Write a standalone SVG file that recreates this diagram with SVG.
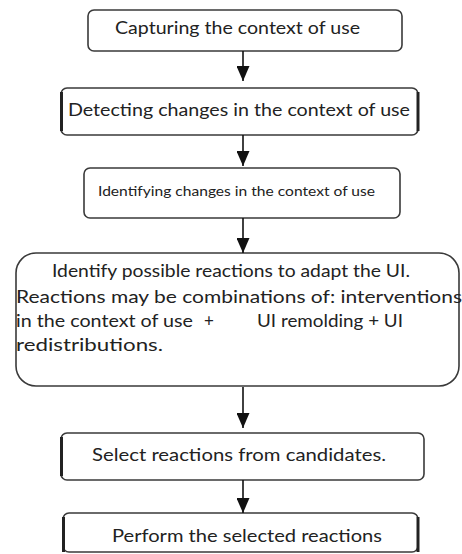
<svg xmlns="http://www.w3.org/2000/svg" width="462" height="554" viewBox="0 0 462 554">
<defs>
<style>
.box{fill:#fff;stroke:#3a3a3a;stroke-width:1.6}
.thick{stroke:#222;stroke-width:3;fill:none}
.t{font-family:Lato,"Open Sans","Liberation Sans",sans-serif;fill:#222}
.edge{stroke:#111;stroke-width:1.6;fill:none}
</style>
<marker id="ah" viewBox="0 0 15 13" refX="15" refY="6.5" markerWidth="15" markerHeight="13" markerUnits="userSpaceOnUse" orient="auto">
<path d="M0,0 L15,6.5 L0,13 Z" fill="#111"/>
</marker>
</defs>
<rect width="462" height="554" fill="#fff"/>
<g id="n1">
<rect class="box" x="88" y="10" width="314" height="41" rx="6"/>
<text class="t" x="115" y="34" font-size="16.5" textLength="245" lengthAdjust="spacingAndGlyphs">Capturing the context of use</text>
</g>
<g id="n2">
<rect class="box" x="61" y="88" width="357" height="47" rx="6"/>
<line class="thick" x1="61.5" y1="92" x2="61.5" y2="131"/>
<line class="thick" x1="418" y1="92" x2="418" y2="131"/>
<text class="t" x="68" y="116" font-size="18" textLength="342" lengthAdjust="spacingAndGlyphs">Detecting changes in the context of use</text>
</g>
<g id="n3">
<rect class="box" x="84" y="168" width="316" height="50" rx="6"/>
<text class="t" x="98" y="196" font-size="12.5" textLength="277" lengthAdjust="spacingAndGlyphs">Identifying changes in the context of use</text>
</g>
<g id="n4">
<rect class="box" x="16" y="253" width="443" height="133" rx="20"/>
<text class="t" x="52" y="277" font-size="17" textLength="358" lengthAdjust="spacingAndGlyphs">Identify possible reactions to adapt the UI.</text>
<text class="t" x="16" y="303" font-size="17" textLength="446" lengthAdjust="spacingAndGlyphs">Reactions may be combinations of: interventions</text>
<text class="t" x="16" y="327" font-size="17" textLength="177" lengthAdjust="spacingAndGlyphs">in the context of use</text>
<text class="t" x="204" y="327" font-size="17">+</text>
<text class="t" x="257" y="327" font-size="17" textLength="146" lengthAdjust="spacingAndGlyphs">UI remolding + UI</text>
<text class="t" x="16" y="351" font-size="17" textLength="147" lengthAdjust="spacingAndGlyphs">redistributions.</text>
</g>
<g id="n5">
<rect class="box" x="61" y="433" width="363" height="47" rx="6"/>
<line class="thick" x1="61.5" y1="437" x2="61.5" y2="476"/>
<text class="t" x="92" y="461" font-size="17" textLength="294" lengthAdjust="spacingAndGlyphs">Select reactions from candidates.</text>
</g>
<g id="n6">
<rect class="box" x="63" y="513" width="355" height="39" rx="6"/>
<line class="thick" x1="63.5" y1="517" x2="63.5" y2="552"/>
<line class="thick" x1="418" y1="517" x2="418" y2="552"/>
<text class="t" x="112" y="542" font-size="17" textLength="270" lengthAdjust="spacingAndGlyphs">Perform the selected reactions</text>
</g>
<g id="connectors">
<line class="edge" x1="243" y1="51" x2="243" y2="81" marker-end="url(#ah)"/>
<line class="edge" x1="243" y1="135" x2="243" y2="166" marker-end="url(#ah)"/>
<line class="edge" x1="243" y1="218" x2="243" y2="253" marker-end="url(#ah)"/>
<line class="edge" x1="243" y1="387" x2="243" y2="428" marker-end="url(#ah)"/>
<line class="edge" x1="243" y1="480" x2="243" y2="513" marker-end="url(#ah)"/>
</g>
</svg>
